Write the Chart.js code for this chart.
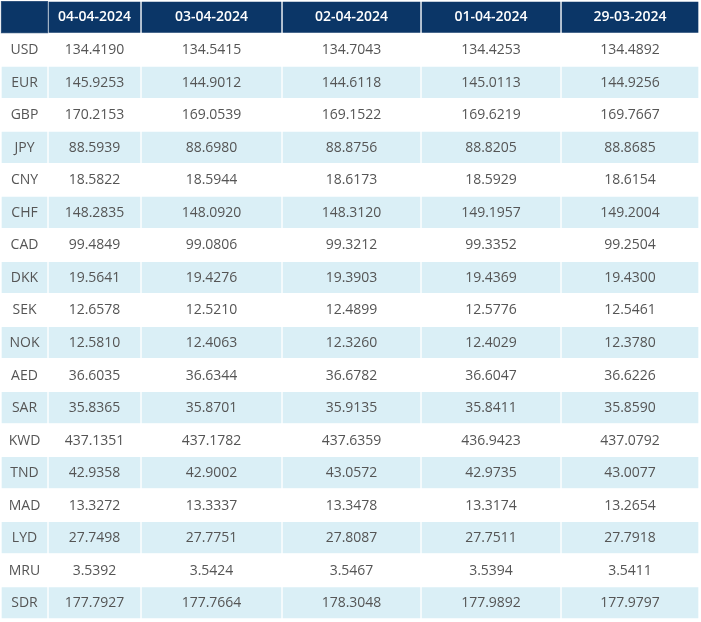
<!DOCTYPE html>
<html>
<head>
<meta charset="utf-8">
<script src="https://cdn.jsdelivr.net/npm/chart.js@4/dist/chart.umd.min.js"></script>
<style>
  html, body { margin: 0; padding: 0; background: #ffffff; }
  #wrap { width: 701px; height: 622px; position: relative; }
</style>
</head>
<body>
<div id="wrap"><canvas id="c"></canvas></div>
<script>
// ---- data ----
const currencies = ['USD','EUR','GBP','JPY','CNY','CHF','CAD','DKK','SEK','NOK','AED','SAR','KWD','TND','MAD','LYD','MRU','SDR'];
const dates = ['04-04-2024','03-04-2024','02-04-2024','01-04-2024','29-03-2024'];
const rates_04_04_2024 = [134.4190,145.9253,170.2153,88.5939,18.5822,148.2835,99.4849,19.5641,12.6578,12.5810,36.6035,35.8365,437.1351,42.9358,13.3272,27.7498,3.5392,177.7927];
const rates_03_04_2024 = [134.5415,144.9012,169.0539,88.6980,18.5944,148.0920,99.0806,19.4276,12.5210,12.4063,36.6344,35.8701,437.1782,42.9002,13.3337,27.7751,3.5424,177.7664];
const rates_02_04_2024 = [134.7043,144.6118,169.1522,88.8756,18.6173,148.3120,99.3212,19.3903,12.4899,12.3260,36.6782,35.9135,437.6359,43.0572,13.3478,27.8087,3.5467,178.3048];
const rates_01_04_2024 = [134.4253,145.0113,169.6219,88.8205,18.5929,149.1957,99.3352,19.4369,12.5776,12.4029,36.6047,35.8411,436.9423,42.9735,13.3174,27.7511,3.5394,177.9892];
const rates_29_03_2024 = [134.4892,144.9256,169.7667,88.8685,18.6154,149.2004,99.2504,19.4300,12.5461,12.3780,36.6226,35.8590,437.0792,43.0077,13.2654,27.7918,3.5411,177.9797];
const seriesValues = [rates_04_04_2024, rates_03_04_2024, rates_02_04_2024, rates_01_04_2024, rates_29_03_2024];

// ---- layout / style (not data) ----
const colWidths = [47, 93, 141, 139, 140, 138];   // table column widths
const tableLeft = 1;
const HEADER_BG = '#0b3667';
const ODD_BG = '#ffffff';
const EVEN_BG = '#daeff6';
const TEXT = '#555555';

const rowLabels = ['__header__'].concat(currencies);

const cellText = (col, row) => {
  if (row === 0) return col === 0 ? '' : dates[col - 1];
  if (col === 0) return currencies[row - 1];
  return seriesValues[col - 1][row - 1].toFixed(4);
};

const rowColor = r => r === 0 ? HEADER_BG : (r % 2 === 1 ? ODD_BG : EVEN_BG);

let edge = tableLeft;
const datasets = colWidths.map((w, c) => {
  const x0 = edge, x1 = edge + w;
  edge = x1;
  return {
    label: 'col' + c,
    data: rowLabels.map(() => [x0, x1]),
    backgroundColor: rowLabels.map((_, r) => rowColor(r)),
    borderColor: rowLabels.map((_, r) => (r === 0 && c === 0) ? '#3f5f86' : '#ffffff'),
    borderWidth: 1,
    borderSkipped: false,
    barPercentage: 1,
    categoryPercentage: 1,
    grouped: false
  };
});

const textPlugin = {
  id: 'cellText',
  afterDatasetsDraw(chart) {
    const ctx = chart.ctx;
    ctx.save();
    ctx.textAlign = 'center';
    ctx.textBaseline = 'middle';
    chart.data.datasets.forEach((ds, c) => {
      const meta = chart.getDatasetMeta(c);
      meta.data.forEach((el, r) => {
        const t = cellText(c, r);
        if (!t) return;
        const cx = (el.x + el.base) / 2;
        const cy = el.y;
        if (r === 0) {
          ctx.fillStyle = '#ffffff';
          ctx.font = '600 14px "Open Sans"';
          ctx.fillText(t, cx, cy - 0.5);
        } else {
          ctx.fillStyle = TEXT;
          ctx.font = '400 14px "Open Sans"';
          ctx.fillText(t, cx, cy + 0.5);
        }
      });
    });
    ctx.restore();
  }
};

new Chart(document.getElementById('c'), {
  type: 'bar',
  data: { labels: rowLabels, datasets },
  options: {
    indexAxis: 'y',
    responsive: true,
    maintainAspectRatio: false,
    animation: false,
    layout: { padding: { top: 1, bottom: 3, left: 0, right: 0 } },
    scales: {
      x: { type: 'linear', min: 0, max: 701, display: false },
      y: { type: 'category', display: false, offset: true }
    },
    plugins: {
      legend: { display: false },
      tooltip: { enabled: false }
    }
  },
  plugins: [textPlugin]
});
</script>
</body>
</html>
